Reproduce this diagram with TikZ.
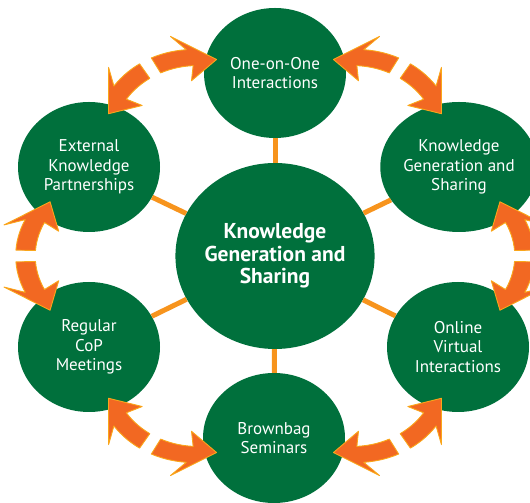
\documentclass[tikz,border=0pt]{standalone}
\usepackage{fontspec}
\setmainfont{PT Sans}
\usepackage{pgf, tikz}
\usetikzlibrary{shapes.geometric}

\definecolor{cgreen}{RGB}{0,112,60}
\definecolor{corange}{RGB}{242,104,34}
\definecolor{cedge}{RGB}{250,166,26}
\definecolor{cspoke}{RGB}{247,148,29}

\tikzset{
	hubcircle/.style={ellipse, fill=cgreen, minimum width=198pt, minimum height=186pt, inner sep=0pt, text=white, align=center, font=\fontsize{21.5}{22.5}\selectfont\bfseries},
	outercircle/.style={ellipse, fill=cgreen, minimum width=142pt, minimum height=130pt, inner sep=0pt, text=white, align=center, font=\fontsize{17}{19.5}\selectfont},
	spoke/.style={cspoke, line width=5pt},
	arrowpart/.style={fill=corange, draw=cedge, line width=0.9pt, line join=round}
}

% one half of a curved double arrow: #1 = angle of the gap, #2 = side (1 or -1)
\newcommand{\halfarrow}[2]{%
	\pgfmathsetmacro{\ca}{#1}
	\pgfmathsetmacro{\ga}{#1+1.5*(#2)}
	\pgfmathsetmacro{\ba}{#1+9.5*(#2)}
	\pgfmathsetmacro{\wa}{#1+7.5*(#2)}
	\pgfmathsetmacro{\ta}{#1+15.5*(#2)}
	\pgfmathsetmacro{\wr}{217-14*(7.5/15.5)^2}
	\filldraw[arrowpart] plot[domain=\ga:\ba, samples=8] (\x:{208.5-14*((\x-\ca)/15.5)^2})
		-- (\wa:\wr-24) -- (\ta:203) -- (\wa:\wr+24)
		-- plot[domain=\ba:\ga, samples=8] (\x:{225.5-14*((\x-\ca)/15.5)^2}) -- cycle;
}

\begin{document}
\begin{tikzpicture}[x=1pt, y=1pt]
	\useasboundingbox (0,0) rectangle (530,503);
	
	\node[hubcircle] (hub) at (275,247) {Knowledge\\Generation and\\Sharing};
	
	\node[outercircle] (one) at (275,430) {One-on-One\\Interactions};
	\node[outercircle] (kgs) at (459,336) {Knowledge\\Generation and\\Sharing};
	\node[outercircle] (online) at (458,156) {Online\\Virtual\\Interactions};
	\node[outercircle] (brown) at (274,65) {Brownbag\\Seminars};
	\node[outercircle] (cop) at (89,156) {Regular\\CoP\\Meetings};
	\node[outercircle] (ext) at (89,336) {External\\Knowledge\\Partnerships};
	
	\foreach \n in {one,kgs,online,brown,cop,ext}
	{
		\draw[spoke] (hub) -- (\n);
	}
	
	\begin{scope}[shift={(275,247)}, xscale=1.15]
		\foreach \a in {0,60,...,300}
		{
			\halfarrow{\a}{1}
			\halfarrow{\a}{-1}
		}
	\end{scope}
\end{tikzpicture}
\end{document}
